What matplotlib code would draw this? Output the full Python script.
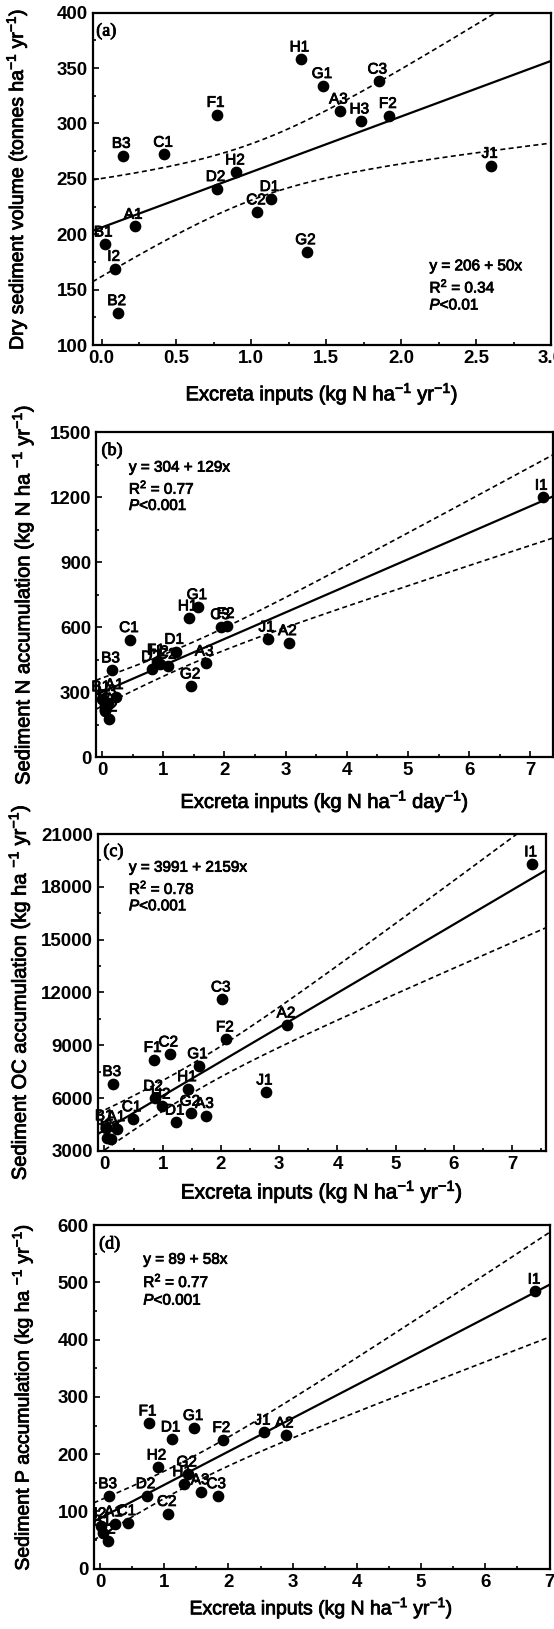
import numpy as np
import matplotlib
matplotlib.use('Agg')
import matplotlib.pyplot as plt
import matplotlib.patheffects as pe
from matplotlib.ticker import MultipleLocator, FormatStrFormatter

plt.rcParams['font.family'] = ['Liberation Sans', 'DejaVu Sans']
plt.rcParams['mathtext.fontset'] = 'custom'
plt.rcParams['mathtext.rm'] = 'Liberation Sans'
plt.rcParams['mathtext.it'] = 'Liberation Sans:italic'
plt.rcParams['mathtext.bf'] = 'Liberation Sans:bold'

# ---------------- data ----------------
# Panel (a): dry sediment volume
a_names = ["A1", "A3", "B1", "B2", "B3", "C1", "C2", "C3", "D1", "D2",
           "F1", "F2", "G1", "G2", "H1", "H2", "H3", "I2", "J1"]
a_x = [0.22, 1.59, 0.02, 0.11, 0.14, 0.42, 1.04, 1.85, 1.13, 0.77,
       0.77, 1.92, 1.48, 1.37, 1.33, 0.90, 1.73, 0.09, 2.60]
a_y = [207, 311, 191, 129, 271, 272, 220, 338, 232, 241,
       308, 307, 334, 184, 358, 256, 302, 169, 262]

# Panel (b): sediment N accumulation
b_names = ["A1", "A2", "A3", "B1", "B2", "B3", "C1", "C2", "C3", "D1", "D2",
           "F1", "F2", "G1", "G2", "H1", "H2", "H3", "I1", "I2", "J1"]
b_x = [0.22, 3.05, 1.69, 0.00, 0.12, 0.16, 0.46, 1.08, 1.95, 1.20, 0.82,
       0.90, 2.04, 1.57, 1.46, 1.42, 0.95, 0.10, 7.20, 0.05, 2.71]
b_y = [280, 529, 434, 270, 177, 403, 543, 420, 603, 489, 408,
       440, 608, 695, 329, 643, 432, 250, 1200, 215, 546]

# Panel (c): sediment OC accumulation
c_names = ["A1", "A2", "A3", "B1", "B2", "B3", "C1", "C2", "C3", "D1", "D2",
           "F1", "F2", "G1", "G2", "H1", "H2", "I1", "I2", "J1"]
c_x = [0.22, 3.14, 1.74, 0.02, 0.12, 0.15, 0.49, 1.12, 2.02, 1.23, 0.86,
       0.85, 2.09, 1.62, 1.49, 1.44, 0.99, 7.34, 0.05, 2.77]
c_y = [4250, 10140, 5000, 4300, 3650, 6810, 4810, 8490, 11610, 4620, 5990,
       8180, 9340, 7820, 5130, 6520, 5530, 19290, 3750, 6330]

# Panel (d): sediment P accumulation
d_names = ["A1", "A2", "A3", "B1", "B2", "B3", "C1", "C2", "C3", "D1", "D2",
           "F1", "F2", "G1", "G2", "H1", "H2", "I1", "I2", "J1"]
d_x = [0.23, 2.89, 1.58, 0.05, 0.12, 0.14, 0.43, 1.06, 1.83, 1.12, 0.73,
       0.76, 1.91, 1.47, 1.37, 1.30, 0.90, 6.78, 0.02, 2.55]
d_y = [78, 233, 134, 62, 48, 127, 80, 96, 127, 226, 127,
       254, 225, 246, 165, 148, 177, 484, 75, 238]

# equation texts
a_eq = ["y = 206 + 50x", "R$^2$ = 0.34", "$P$<0.01"]
b_eq = ["y = 304 + 129x", "R$^2$ = 0.77", "$P$<0.001"]
c_eq = ["y = 3991 + 2159x", "R$^2$ = 0.78", "$P$<0.001"]
d_eq = ["y = 89 + 58x", "R$^2$ = 0.77", "$P$<0.001"]

xlab_yr = "Excreta inputs (kg N ha$^{-1}$ yr$^{-1}$)"
xlab_day = "Excreta inputs (kg N ha$^{-1}$ day$^{-1}$)"
a_ylab = "Dry sediment volume (tonnes ha$^{-1}$ yr$^{-1}$)"
b_ylab = "Sediment N accumulation (kg N ha $^{-1}$ yr$^{-1}$)"
c_ylab = "Sediment OC accumulation (kg ha $^{-1}$ yr$^{-1}$)"
d_ylab = "Sediment P accumulation (kg ha $^{-1}$ yr$^{-1}$)"

T95 = {17: 2.110, 18: 2.101, 19: 2.093, 20: 2.086}

fig = plt.figure(figsize=(5.54, 16.29), dpi=100)
bold_fx = [pe.withStroke(linewidth=0.6, foreground="black")]

panels = [
    dict(pos=[0.1671, 0.7882, 0.8274, 0.2040], x=a_x, y=a_y, n=a_names, tag="(a)",
         xlim=(-0.06, 3.0), ylim=(100, 400), xmaj=0.5, xmin=0.25, ymaj=50, ymin=25,
         xfmt="%.1f", eq=a_eq, eqpos=(0.735, [0.237, 0.177, 0.119]),
         xl=xlab_yr, yl=a_ylab, xlpad=10, ylx=-0.1366, xls=14.5, yls=14),
    dict(pos=[0.1733, 0.5350, 0.8249, 0.1995], x=b_x, y=b_y, n=b_names, tag="(b)",
         xlim=(-0.1, 7.37), ylim=(0, 1500), xmaj=1, xmin=0.5, ymaj=300, ymin=150,
         xfmt="%d", eq=b_eq, eqpos=(0.072, [0.892, 0.831, 0.774]),
         xl=xlab_day, yl=b_ylab, xlpad=6.5, ylx=-0.132, xls=14.5, yls=14.5),
    dict(pos=[0.1769, 0.2935, 0.8087, 0.1945], x=c_x, y=c_y, n=c_names, tag="(c)",
         xlim=(-0.11, 7.58), ylim=(3000, 21000), xmaj=1, xmin=0.5, ymaj=3000, ymin=1500,
         xfmt="%d", eq=c_eq, eqpos=(0.069, [0.894, 0.831, 0.772]),
         xl=xlab_yr, yl=c_ylab, xlpad=4.5, ylx=-0.147, xls=15, yls=14.5),
    dict(pos=[0.1690, 0.0370, 0.8229, 0.2110], x=d_x, y=d_y, n=d_names, tag="(d)",
         xlim=(-0.1, 7.0), ylim=(0, 600), xmaj=1, xmin=0.5, ymaj=100, ymin=50,
         xfmt="%d", eq=d_eq, eqpos=(0.109, [0.899, 0.838, 0.780]),
         xl=xlab_yr, yl=d_ylab, xlpad=3.5, ylx=-0.127, xls=14, yls=14),
]

for p in panels:
    ax = fig.add_axes(p["pos"])
    x = np.array(p["x"], float)
    y = np.array(p["y"], float)
    n = len(x)
    slope, icpt = np.polyfit(x, y, 1)
    resid = y - (icpt + slope * x)
    s = np.sqrt(np.sum(resid ** 2) / (n - 2))
    xm = x.mean()
    sxx = np.sum((x - xm) ** 2)
    xg = np.linspace(p["xlim"][0], p["xlim"][1], 200)
    yg = icpt + slope * xg
    hw = T95[n - 2] * s * np.sqrt(1.0 / n + (xg - xm) ** 2 / sxx)
    ax.plot(xg, yg, color="black", lw=1.6, zorder=2)
    ax.plot(xg, yg + hw, color="black", lw=1.2, ls=(0, (3, 2)), zorder=2)
    ax.plot(xg, yg - hw, color="black", lw=1.2, ls=(0, (3, 2)), zorder=2)
    ax.scatter(x, y, s=55, color="black", zorder=3)
    for nm, xi, yi in zip(p["n"], x, y):
        ax.annotate(nm, (xi, yi), xytext=(-1, 8.5), textcoords="offset points",
                    ha="center", va="center", fontsize=11, zorder=4,
                    path_effects=bold_fx)
    ax.set_xlim(*p["xlim"])
    ax.set_ylim(*p["ylim"])
    ax.xaxis.set_major_locator(MultipleLocator(p["xmaj"]))
    ax.xaxis.set_minor_locator(MultipleLocator(p["xmin"]))
    ax.yaxis.set_major_locator(MultipleLocator(p["ymaj"]))
    ax.yaxis.set_minor_locator(MultipleLocator(p["ymin"]))
    ax.xaxis.set_major_formatter(FormatStrFormatter(p["xfmt"]))
    ax.tick_params(which="both", direction="in", labelsize=13.5, width=1.2)
    ax.tick_params(which="major", length=4)
    ax.tick_params(which="minor", length=2)
    for lab in ax.get_xticklabels() + ax.get_yticklabels():
        lab.set_fontweight("bold")
    for sp in ax.spines.values():
        sp.set_linewidth(1.6)
    ax.set_xlabel(p["xl"], fontsize=p["xls"], labelpad=p["xlpad"], path_effects=bold_fx)
    ax.set_ylabel(p["yl"], fontsize=p["yls"], path_effects=bold_fx)
    ax.yaxis.set_label_coords(p["ylx"], 0.5)
    ax.text(0.008 if p["tag"] == "(a)" else 0.012, 0.945, p["tag"], transform=ax.transAxes,
            fontsize=13, family="Liberation Serif", ha="left", va="center",
            path_effects=bold_fx)
    ex, eys = p["eqpos"]
    for t, ey in zip(p["eq"], eys):
        ax.text(ex, ey, t, transform=ax.transAxes, fontsize=11, ha="left", va="center",
                path_effects=bold_fx)

fig.savefig("out.png", dpi=100)
